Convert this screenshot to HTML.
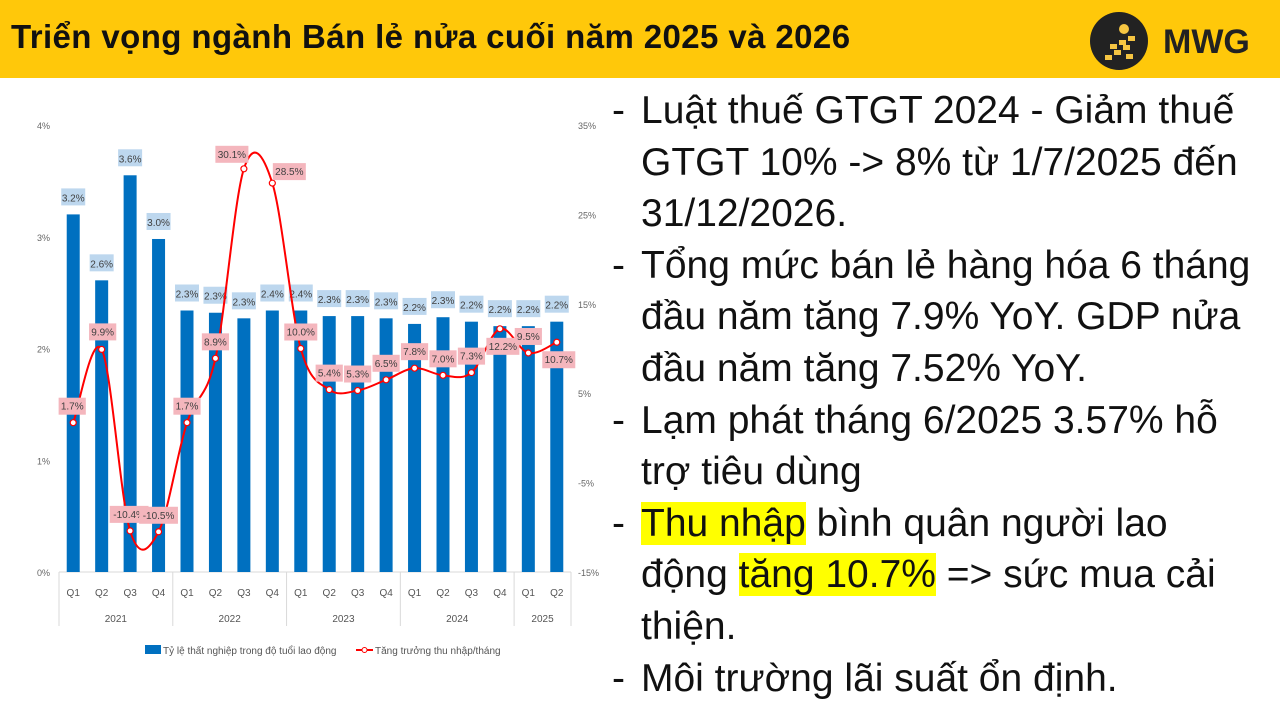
<!DOCTYPE html>
<html><head><meta charset="utf-8">
<style>
body{margin:0;width:1280px;height:720px;overflow:hidden;background:#fff;font-family:"Liberation Sans",sans-serif;position:relative}
#hdr{position:absolute;left:0;top:0;width:1280px;height:78px;background:#ffc80a}
#title{position:absolute;left:11px;top:18px;font-size:33px;font-weight:bold;color:#111;letter-spacing:0.4px;white-space:nowrap}
#logo{position:absolute;left:1090px;top:12px;width:58px;height:58px;border-radius:50%;background:#222}
#logotxt{position:absolute;left:1163px;top:23px;font-size:34px;font-weight:bold;color:#222}
#txt{position:absolute;left:612px;top:85px;width:650px;font-size:39px;line-height:51.6px;color:#111}
.b{display:flex}.b span.d{width:29px;flex:none}
.hl{background:#ffff00}
svg{position:absolute;left:0;top:0}
</style></head><body>
<div id="hdr"></div>
<div id="title">Triển vọng ngành Bán lẻ nửa cuối năm 2025 và 2026</div>
<div id="logo">
<svg width="58" height="58" style="position:absolute;left:0;top:0"><circle cx="34" cy="17" r="5" fill="#f5c542"/>
<g fill="#f5c542"><rect x="38" y="24" width="7" height="5"/><rect x="29" y="28" width="7" height="5"/><rect x="20" y="32" width="7" height="5"/><rect x="33" y="33" width="7" height="5"/><rect x="24" y="38" width="7" height="5"/><rect x="15" y="43" width="7" height="5"/><rect x="36" y="42" width="7" height="5"/></g></svg>
</div>
<div id="logotxt">MWG</div>
<div id="txt">
<div class="b"><span class="d">-</span><span>Luật thuế GTGT 2024 - Giảm thuế GTGT 10% -&gt; 8% từ 1/7/2025 đến 31/12/2026.</span></div>
<div class="b"><span class="d">-</span><span>Tổng mức bán lẻ hàng hóa 6 tháng đầu năm tăng 7.9% YoY. GDP nửa đầu năm tăng 7.52% YoY.</span></div>
<div class="b"><span class="d">-</span><span>Lạm phát tháng 6/2025 3.57% hỗ trợ tiêu dùng</span></div>
<div class="b"><span class="d">-</span><span><span class="hl">Thu nhập</span> bình quân người lao động <span class="hl">tăng 10.7%</span> =&gt; sức mua cải thiện.</span></div>
<div class="b"><span class="d">-</span><span>Môi trường lãi suất ổn định.</span></div>
</div>
<svg id="chart" width="600" height="720"></svg>
<script>
const quarters=["Q1","Q2","Q3","Q4","Q1","Q2","Q3","Q4","Q1","Q2","Q3","Q4","Q1","Q2","Q3","Q4","Q1","Q2"];
const years=["2021","2022","2023","2024","2025"];
const yearCounts=[4,4,4,4,2];
const unemployment=[3.2,2.61,3.55,2.98,2.34,2.32,2.27,2.34,2.34,2.29,2.29,2.27,2.22,2.28,2.24,2.2,2.2,2.24];
const unemploymentLabels=["3.2%","2.6%","3.6%","3.0%","2.3%","2.3%","2.3%","2.4%","2.4%","2.3%","2.3%","2.3%","2.2%","2.3%","2.2%","2.2%","2.2%","2.2%"];
const incomeGrowth=[1.7,9.9,-10.4,-10.5,1.7,8.9,30.1,28.5,10.0,5.4,5.3,6.5,7.8,7.0,7.3,12.2,9.5,10.7];
const leftTicks=[0,1,2,3,4];
const rightTicks=[-15,-5,5,15,25,35];
const NS="http://www.w3.org/2000/svg";
const svg=document.getElementById('chart');
const X0=59,X1=571,Y0=572,Y1=125;
const step=(X1-X0)/quarters.length;
const xC=i=>X0+step*(i+0.5);
const yL=v=>Y0-(v/4)*(Y0-Y1);
const yR=v=>Y0-((v+15)/50)*(Y0-Y1);
function el(t,a,p){const e=document.createElementNS(NS,t);for(const k in a)e.setAttribute(k,a[k]);(p||svg).appendChild(e);return e;}
leftTicks.forEach(v=>{const t=el('text',{x:50,y:yL(v)+4,'font-size':9,fill:'#666','text-anchor':'end'});t.textContent=v+'%';

});
rightTicks.forEach(v=>{const t=el('text',{x:578,y:yR(v)+4,'font-size':9,fill:'#666'});t.textContent=v+'%';

});
el('line',{x1:X0,y1:Y0,x2:X1,y2:Y0,stroke:'#d9d9d9'});
let idx=0;
const bound=[X0];
yearCounts.forEach((c,k)=>{idx+=c;bound.push(X0+step*idx);});
bound.forEach(bx=>el('line',{x1:bx,y1:Y0,x2:bx,y2:626,stroke:'#d9d9d9'}));
idx=0;
yearCounts.forEach((c,k)=>{const cx=X0+step*(idx+c/2);idx+=c;
const t=el('text',{x:cx,y:622,'font-size':10,fill:'#555','text-anchor':'middle'});t.textContent=years[k];

});
quarters.forEach((q,i)=>{const t=el('text',{x:xC(i),y:596,'font-size':10,fill:'#555','text-anchor':'middle'});t.textContent=q;

});
unemployment.forEach((v,i)=>{const b=el('rect',{x:xC(i)-6.5,y:yL(v),width:13,height:Y0-yL(v),fill:'#0070c0'});

});
unemployment.forEach((v,i)=>{const y=yL(v)-17;
el('rect',{x:xC(i)-12,y:y-9,width:24,height:17,fill:'#bdd7ee'});
const t=el('text',{x:xC(i),y:y+4,'font-size':10,fill:'#404040','text-anchor':'middle'});t.textContent=unemploymentLabels[i];

});
const pts=incomeGrowth.map((v,i)=>[xC(i),yR(v)]);
let d='M'+pts[0][0]+','+pts[0][1];
for(let i=0;i<pts.length-1;i++){const p0=pts[Math.max(0,i-1)],p1=pts[i],p2=pts[i+1],p3=pts[Math.min(pts.length-1,i+2)];
const c1=[p1[0]+(p2[0]-p0[0])/6,p1[1]+(p2[1]-p0[1])/6],c2=[p2[0]-(p3[0]-p1[0])/6,p2[1]-(p3[1]-p1[1])/6];
d+=` C${c1[0]},${c1[1]} ${c2[0]},${c2[1]} ${p2[0]},${p2[1]}`;}
const ln=el('path',{d:d,fill:'none',stroke:'#ff0000','stroke-width':2});


pts.forEach(p=>{const c=el('circle',{cx:p[0],cy:p[1],r:3,fill:'#fff',stroke:'#ff0000','stroke-width':1.2});

});
const offX=[-1,1,-1,0,0,0,-12,17,0,0,0,0,0,0,0,3,0,2];
const offY=[-17,-18,-17,-17,-17,-17,-15,-12,-17,-17,-17,-17,-17,-17,-17,17,-17,17];
incomeGrowth.forEach((v,i)=>{const x=pts[i][0]+offX[i],y=pts[i][1]+offY[i];
const s=(v.toFixed(1))+'%';const w=s.length*5.8+4;
el('rect',{x:x-w/2,y:y-8,width:w,height:17,fill:'#f4b6bd'});
const t=el('text',{x:x,y:y+4,'font-size':10,fill:'#404040','text-anchor':'middle'});t.textContent=s;

});
el('rect',{x:145,y:645,width:16,height:9,fill:'#0070c0'});
let t=el('text',{x:163,y:654,'font-size':10,fill:'#555'});t.textContent='Tỷ lệ thất nghiệp trong độ tuổi lao động';


el('line',{x1:356,y1:650,x2:373,y2:650,stroke:'#ff0000','stroke-width':2});
el('circle',{cx:364.5,cy:650,r:2.5,fill:'#fff',stroke:'#ff0000'});
t=el('text',{x:375,y:654,'font-size':10,fill:'#555'});t.textContent='Tăng trưởng thu nhập/tháng';


</script>
</body></html>
